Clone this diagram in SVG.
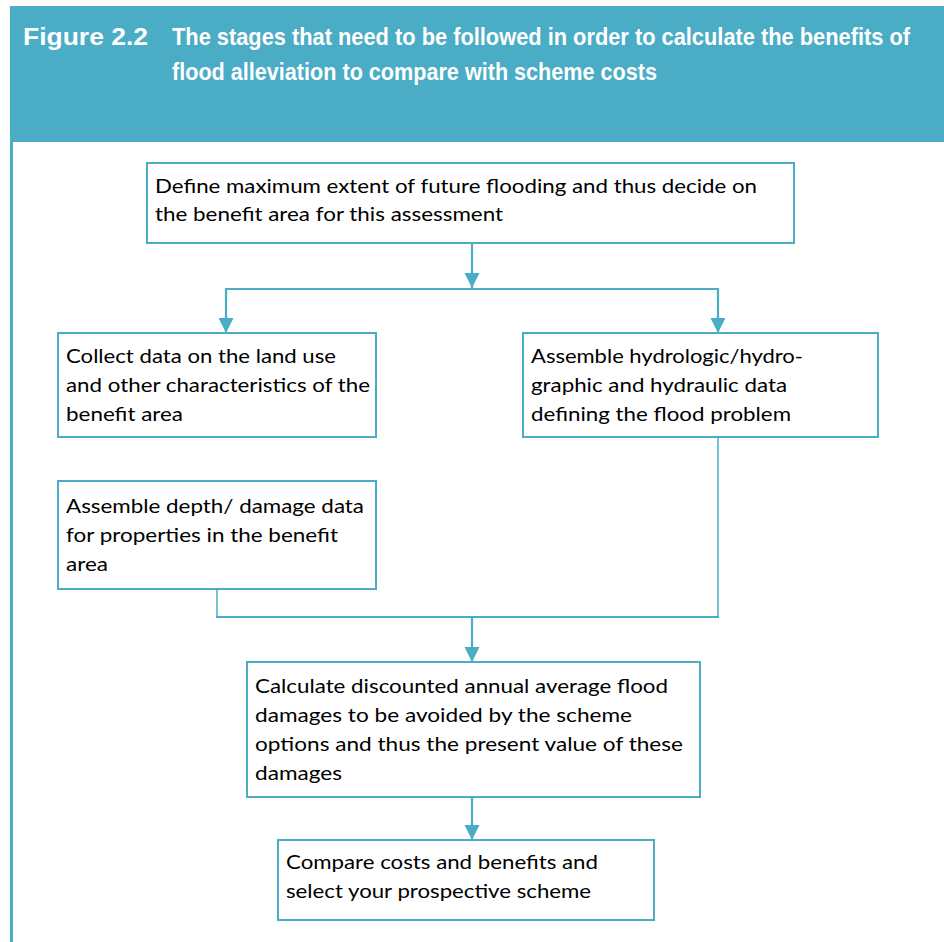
<svg xmlns="http://www.w3.org/2000/svg" width="944" height="942" viewBox="0 0 944 942">
<style>
.hdr{fill:#FFFFFF;font-family:"Liberation Sans",Arial,sans-serif;font-weight:bold;font-size:23px}
.box{fill:#FFFFFF;stroke:#4BACC6;stroke-width:2}
.t{fill:#000000;font-family:Lato,"Noto Sans",sans-serif;font-size:20px}
.c{fill:none;stroke:#4BACC6;stroke-width:2.2}
.c2{fill:none;stroke:#4BACC6;stroke-width:1.5}
.ah{fill:#4BACC6}
</style>
<rect x="0" y="0" width="944" height="942" fill="#FFFFFF"/>
<g id="header">
<rect x="10" y="6" width="934" height="136" fill="#4BACC6"/>
<rect x="10" y="142" width="3" height="800" fill="#4BACC6"/>
<g transform="scale(0.84,1)">
<text class="hdr" x="27.38" y="45" textLength="148.8" lengthAdjust="spacingAndGlyphs">Figure 2.2</text>
<text class="hdr" x="204.76" y="45" textLength="878.6" lengthAdjust="spacingAndGlyphs">The stages that need to be followed in order to calculate the benefits of</text>
<text class="hdr" x="204.76" y="80" textLength="577.4" lengthAdjust="spacingAndGlyphs">flood alleviation to compare with scheme costs</text>
</g>
</g>
<g id="connectors">
<line class="c" x1="472" y1="243" x2="472" y2="289"/>
<path class="ah" d="M464.5,273 L479.5,273 L472,288 Z"/>
<polyline class="c" points="226,333 226,289 718,289 718,333"/>
<path class="ah" d="M218.5,318 L233.5,318 L226,333 Z"/>
<path class="ah" d="M710.5,318 L725.5,318 L718,333 Z"/>
<polyline class="c2" points="217,589 217,617"/>
<polyline class="c2" points="718,437 718,617"/>
<line class="c" x1="216" y1="617" x2="719" y2="617"/>
<line class="c" x1="472" y1="617" x2="472" y2="662"/>
<path class="ah" d="M464.5,647 L479.5,647 L472,662 Z"/>
<line class="c" x1="472" y1="797" x2="472" y2="840"/>
<path class="ah" d="M464.5,825 L479.5,825 L472,840 Z"/>
</g>
<g id="define">
<rect class="box" x="147" y="163" width="647" height="80"/>
<text class="t" x="155" y="193" textLength="602" lengthAdjust="spacingAndGlyphs">Define maximum extent of future flooding and thus decide on</text>
<text class="t" x="155" y="221" textLength="348" lengthAdjust="spacingAndGlyphs">the benefit area for this assessment</text>
</g>
<g id="collect">
<rect class="box" x="58" y="333" width="318" height="104"/>
<text class="t" x="66" y="363" textLength="270" lengthAdjust="spacingAndGlyphs">Collect data on the land use</text>
<text class="t" x="66" y="392" textLength="304" lengthAdjust="spacingAndGlyphs">and other characteristics of the</text>
<text class="t" x="66" y="421" textLength="117" lengthAdjust="spacingAndGlyphs">benefit area</text>
</g>
<g id="hydro">
<rect class="box" x="523" y="333" width="355" height="104"/>
<text class="t" x="531" y="363" textLength="272" lengthAdjust="spacingAndGlyphs">Assemble hydrologic/hydro-</text>
<text class="t" x="531" y="392" textLength="256" lengthAdjust="spacingAndGlyphs">graphic and hydraulic data</text>
<text class="t" x="531" y="421" textLength="260" lengthAdjust="spacingAndGlyphs">defining the flood problem</text>
</g>
<g id="depth">
<rect class="box" x="58" y="481" width="318" height="108"/>
<text class="t" x="66" y="513" textLength="298" lengthAdjust="spacingAndGlyphs">Assemble depth/ damage data</text>
<text class="t" x="66" y="542" textLength="272" lengthAdjust="spacingAndGlyphs">for properties in the benefit</text>
<text class="t" x="66" y="571" textLength="42" lengthAdjust="spacingAndGlyphs">area</text>
</g>
<g id="calculate">
<rect class="box" x="247" y="662" width="453" height="135"/>
<text class="t" x="255" y="693" textLength="413" lengthAdjust="spacingAndGlyphs">Calculate discounted annual average flood</text>
<text class="t" x="255" y="722" textLength="377" lengthAdjust="spacingAndGlyphs">damages to be avoided by the scheme</text>
<text class="t" x="255" y="751" textLength="428" lengthAdjust="spacingAndGlyphs">options and thus the present value of these</text>
<text class="t" x="255" y="780" textLength="87" lengthAdjust="spacingAndGlyphs">damages</text>
</g>
<g id="compare">
<rect class="box" x="278" y="840" width="376" height="80"/>
<text class="t" x="286" y="869" textLength="312" lengthAdjust="spacingAndGlyphs">Compare costs and benefits and</text>
<text class="t" x="286" y="898" textLength="305" lengthAdjust="spacingAndGlyphs">select your prospective scheme</text>
</g>
</svg>
